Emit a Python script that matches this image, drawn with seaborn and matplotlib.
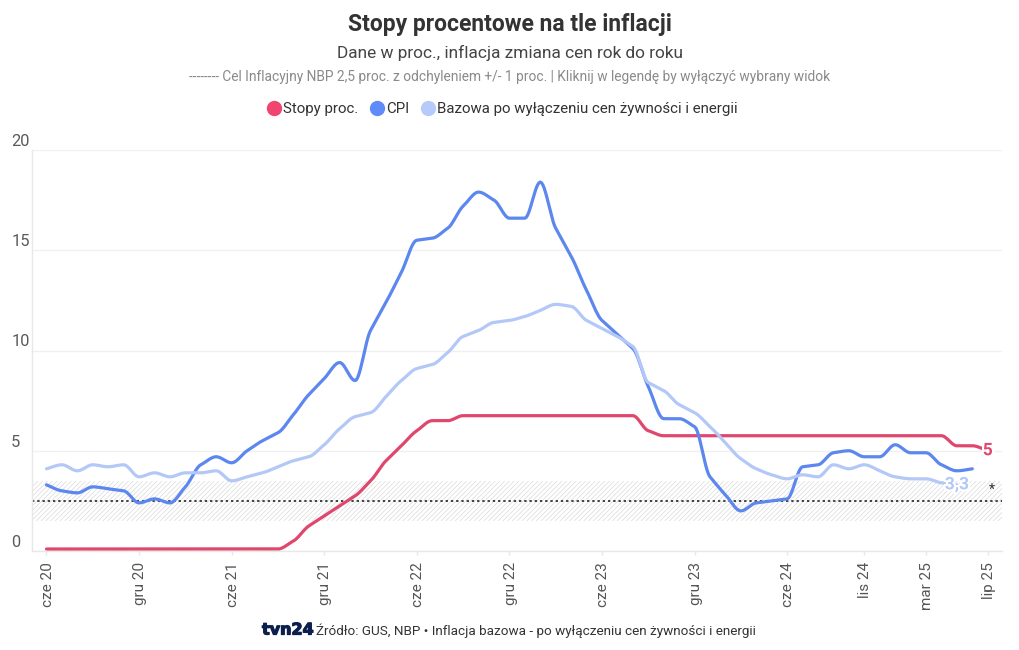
import numpy as np
import pandas as pd
import matplotlib
matplotlib.use("Agg")
import matplotlib.pyplot as plt
import matplotlib.patheffects as pe
from matplotlib.lines import Line2D
from matplotlib.transforms import ScaledTranslation
import seaborn as sns

# ---- data (monthly, starting June 2020) ----
rates = [0.1]*16 + [0.5, 1.25, 1.75, 2.25, 2.75, 3.5, 4.5, 5.25, 6.0, 6.5, 6.5] + [6.75]*12 + \
        [6.0] + [5.75]*19 + [5.25, 5.25, 5.0]
cpi = [3.3, 3.0, 2.9, 3.2, 3.1, 3.0, 2.4, 2.6, 2.4, 3.2, 4.3, 4.7, 4.4, 5.0, 5.5, 5.9, 6.8, 7.8, 8.6,
       9.4, 8.5, 11.0, 12.4, 13.9, 15.5, 15.6, 16.1, 17.2, 17.9, 17.5, 16.6,
       16.6, 18.4, 16.1, 14.7, 13.0, 11.5, 10.8, 10.1, 8.2, 6.6, 6.6, 6.2,
       3.7, 2.8, 2.0, 2.4, 2.5, 2.6, 4.2, 4.3, 4.9, 5.0, 4.7, 4.7,
       5.3, 4.9, 4.9, 4.3, 4.0, 4.1]
core = [4.1, 4.3, 4.0, 4.3, 4.2, 4.3, 3.7, 3.9, 3.7, 3.9, 3.9, 4.0, 3.5, 3.7, 3.9, 4.2, 4.5, 4.7, 5.3,
        6.1, 6.7, 6.9, 7.7, 8.5, 9.1, 9.3, 9.9, 10.7, 11.0, 11.4, 11.5,
        11.7, 12.0, 12.3, 12.2, 11.5, 11.1, 10.7, 10.2, 8.4, 8.0, 7.3, 6.9,
        6.2, 5.4, 4.6, 4.1, 3.8, 3.6, 3.8, 3.7, 4.3, 4.1, 4.3, 4.0,
        3.7, 3.6, 3.6, 3.4, 3.3]
series_names = ["Stopy proc.", "CPI", "Bazowa po wyłączeniu cen żywności i energii"]
series_values = [rates, cpi, core]
series_colors = ["#e0476d", "#5c87ee", "#b4c8f7"]
legend_colors = ["#f04570", "#5f8cf8", "#b6cbfa"]
tick_pos = [0, 6, 12, 18, 24, 30, 36, 42, 48, 53, 57, 61]
tick_labels = ["cze 20", "gru 20", "cze 21", "gru 21", "cze 22", "gru 22", "cze 23", "gru 23",
               "cze 24", "lis 24", "mar 25", "lip 25"]
y_ticks = [0, 5, 10, 15, 20]
target, band_low, band_high = 2.5, 1.5, 3.5

FONT = "Roboto"
sns.set_theme(style="white")
plt.rcParams["font.family"] = [FONT, "DejaVu Sans"]
plt.rcParams["hatch.linewidth"] = 0.4
plt.rcParams["hatch.color"] = "#cfcfcf"


def monotone_curve(y, n=12):
    """Monotone cubic (curveMonotoneX) rendering of a monthly series."""
    y = np.asarray(y, float)
    x = np.arange(len(y), dtype=float)
    s = np.diff(y)
    m = np.zeros_like(y)
    for i in range(1, len(y) - 1):
        if s[i - 1] * s[i] > 0:
            m[i] = np.sign(s[i]) * min(abs(s[i - 1]), abs(s[i]), 0.5 * abs(s[i - 1] + s[i]))
    m[0], m[-1] = s[0], s[-1]
    xs, ys = [], []
    for i in range(len(y) - 1):
        t = np.linspace(0, 1, n, endpoint=False)
        h00 = 2*t**3 - 3*t**2 + 1
        h10 = t**3 - 2*t**2 + t
        h01 = -2*t**3 + 3*t**2
        h11 = t**3 - t**2
        xs.append(x[i] + t)
        ys.append(h00*y[i] + h10*m[i] + h01*y[i+1] + h11*m[i+1])
    xs.append([x[-1]])
    ys.append([y[-1]])
    return np.concatenate(xs), np.concatenate(ys)


frames = []
for name, vals in zip(series_names, series_values):
    xs, ys = monotone_curve(vals)
    frames.append(pd.DataFrame({"month": xs, "value": ys, "series": name}))
df = pd.concat(frames, ignore_index=True)

W, H = 1020, 650
fig = plt.figure(figsize=(W/100, H/100), dpi=100, facecolor="white")
L, R, T, B = 32, 1002, 150, 551
ax = fig.add_axes([L/W, 1 - B/H, (R - L)/W, (B - T)/H])
ax.set_facecolor("white")
px_per_month = 15.43
ax.set_xlim((L - 46.5)/px_per_month, (R - 46.5)/px_per_month)
ax.set_ylim(0, 20)

ax.axhspan(band_low, band_high, facecolor="none", edgecolor="#d2d2d2", hatch="///////", lw=0, zorder=1)
ax.axhline(target, color="#333333", lw=1.3, ls=(0, (1.3, 1.6)), zorder=1.5)

sns.lineplot(data=df, x="month", y="value", hue="series", hue_order=series_names,
             palette=dict(zip(series_names, series_colors)), estimator=None, sort=False,
             legend=False, linewidth=2.3, ax=ax, zorder=3)
for ln in ax.get_lines():
    ln.set_solid_capstyle("round")
    ln.set_solid_joinstyle("round")

# axes styling
for s in ["top", "right"]:
    ax.spines[s].set_visible(False)
for s in ["left", "bottom"]:
    ax.spines[s].set_visible(True)
    ax.spines[s].set_color("#e8e8e8")
    ax.spines[s].set_linewidth(1)
ax.set_xlabel("")
ax.set_ylabel("")
ax.set_yticks(y_ticks)
ax.set_yticklabels([str(v) for v in y_ticks], ha="left", va="bottom", fontsize=11.8, color="#5a5a5a")
ax.tick_params(axis="y", length=0, pad=15)
up = ScaledTranslation(0, 1.2/100, fig.dpi_scale_trans)
for lab in ax.get_yticklabels():
    lab.set_transform(lab.get_transform() + up)
ax.yaxis.grid(True, color="#f0f0f0", lw=1)
ax.xaxis.grid(False)
ax.set_axisbelow(True)
ax.set_xticks(tick_pos)
ax.set_xticklabels(tick_labels, rotation=90, ha="center", va="top", fontsize=11, color="#555555")
ax.tick_params(axis="x", length=3, width=1, color="#e8e8e8", pad=5, bottom=True)
shift = ScaledTranslation(1.2/100, 0, fig.dpi_scale_trans)
for lab in ax.get_xticklabels():
    lab.set_transform(lab.get_transform() + shift)

# end labels
halo = [pe.withStroke(linewidth=3, foreground="white")]
ax.text(len(rates) - 1, rates[-1], "5", color="#e0476d", fontsize=12.5, fontweight="bold",
        ha="center", va="center", zorder=5, path_effects=halo)
ax.text(len(core) - 1, core[-1], "3,3", color="#b4c8f7", fontsize=12.5, fontweight="bold",
        ha="center", va="center", zorder=5, path_effects=halo)
fig.text(992/W, 1 - 490/H, "*", fontsize=10, color="#333333", ha="center", va="center")

# titles
ctr = 510/W
fig.text(ctr, 1 - 24.5/H, "Stopy procentowe na tle inflacji", ha="center", va="center",
         fontsize=16.5, fontweight="bold", color="#333333")
fig.text(ctr, 1 - 53/H, "Dane w proc., inflacja zmiana cen rok do roku", ha="center", va="center",
         fontsize=12.45, color="#444444")
fig.text(ctr, 1 - 77/H,
         "-------- Cel Inflacyjny NBP 2,5 proc. z odchyleniem +/- 1 proc. | Kliknij w legendę by wyłączyć wybrany widok",
         ha="center", va="center", fontsize=9.95, color="#8a8a8a")

# legend
handles = [Line2D([], [], ls="", marker="o", ms=10, mfc=c, mec=c, label=n)
           for c, n in zip(legend_colors, series_names)]
fig.legend(handles=handles, loc="center", bbox_to_anchor=(501.5/W, 1 - 109/H), ncol=3, frameon=False,
           fontsize=10.85, handletextpad=0.02, columnspacing=0.62, labelcolor="#333333", handlelength=1.2)

# footer
fig.text(288/W, 1 - 630/H, "tvn24", ha="center", va="center", fontsize=11.5, fontweight="bold",
         color="#0b1f4d", family="DejaVu Sans",
         path_effects=[pe.withStroke(linewidth=0.9, foreground="#0b1f4d")])
fig.text(316/W, 1 - 631/H, "Źródło: GUS, NBP • Inflacja bazowa - po wyłączeniu cen żywności i energii",
         ha="left", va="center", fontsize=9.7, color="#333333")

fig.savefig("out.png", dpi=100, facecolor="white")
